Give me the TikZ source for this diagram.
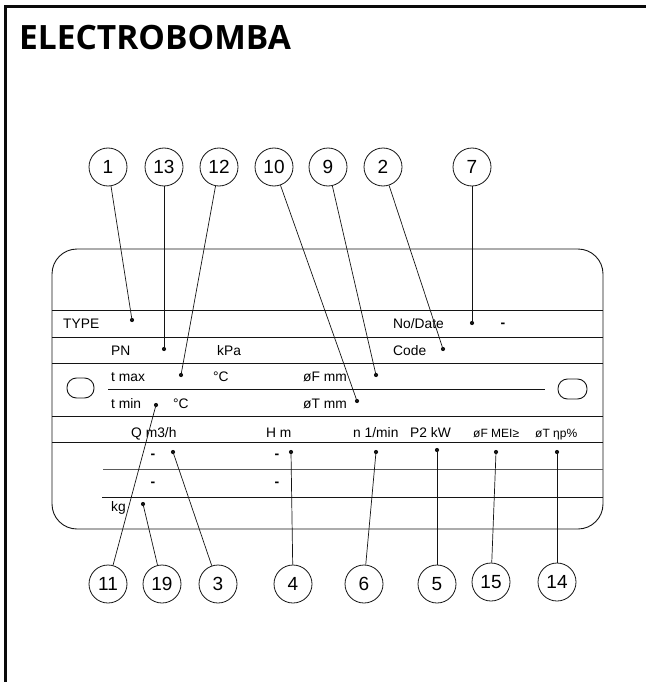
\documentclass[tikz,border=0pt]{standalone}
\usepackage{fontspec}
\setmainfont{Liberation Sans}
\newfontfamily\titlefont{Open Sans}
\usepackage{tikz}
\usetikzlibrary{positioning}
\definecolor{plateink}{RGB}{20,20,20}
\definecolor{frameink}{RGB}{10,10,10}
\tikzset{
  callout/.style={circle, draw=plateink, line width=0.8pt, minimum size=38pt,
    inner sep=0pt, font=\fontsize{19}{22}\selectfont},
  lbl/.style={anchor=base west, inner sep=0pt, font=\fontsize{13.8}{16}\selectfont},
  smalllbl/.style={anchor=base west, inner sep=0pt, font=\fontsize{12}{14}\selectfont},
  blank/.style={anchor=base, inner sep=0pt, font=\bfseries\fontsize{14}{16}\selectfont},
  dot/.style={circle, fill=plateink, minimum size=4.2pt, inner sep=0pt},
  leader/.style={line width=0.7pt, color=plateink},
  rule/.style={line width=0.9pt, color=plateink}
}

\begin{document}
\begin{tikzpicture}[x=1pt, y=-1pt]
    \useasboundingbox (0,0) rectangle (646,682);

    % frame and heading
    \draw[line width=2.6pt, color=frameink] (5.3,682) -- (5.3,6.3) -- (646,6.3);
    \node[anchor=base west, inner sep=0pt, font=\titlefont\bfseries\fontsize{33.5}{38}\selectfont]
      (title) at (19,50) {ELECTROBOMBA};

    % plate outline and rows
    \draw[rule, rounded corners=25pt] (52,249) rectangle (603,529);
    \draw[rule] (52,310) -- (603,310);
    \draw[rule] (52,337) -- (603,337);
    \draw[rule] (52,363) -- (603,363);
    \draw[rule] (108,389) -- (545,389);
    \draw[rule] (52,416) -- (603,416);
    \draw[rule] (52,442) -- (603,442);
    \draw[rule, color=plateink!70] (103,469) -- (603,469);
    \draw[rule] (102,497) -- (603,497);

    % fixing holes
    \draw[rule, rounded corners=9.5pt] (67,378) rectangle (94,398);
    \draw[rule, rounded corners=9.5pt] (558,379) rectangle (587,399);

    % plate texts
    \node[lbl] (type) at (63,328) {TYPE};
    \node[lbl] (nodate) at (393,328) {No/Date};
    \node[blank] (nodash) at (503,327) {-};
    \node[lbl] (pn) at (111,355) {PN};
    \node[lbl] (kpa) at (217,355) {kPa};
    \node[lbl] (code) at (393,355) {Code};
    \node[lbl] (tmax) at (111,381) {t max};
    \node[lbl] (cmax) at (213,381) {°C};
    \node[lbl] (fmm) at (303,381) {øF mm};
    \node[lbl] (tmin) at (111,408) {t min};
    \node[lbl] (cmin) at (173,408) {°C};
    \node[lbl] (tmm) at (303,408) {øT mm};
    \node[lbl] (flow) at (131,437) {Q m3/h};
    \node[lbl] (head) at (266,437) {H m};
    \node[lbl] (speed) at (353,437) {n 1/min};
    \node[lbl] (power) at (410,437) {P2 kW};
    \node[smalllbl] (mei) at (473,437) {øF MEI≥};
    \node[smalllbl] (eff) at (535,437) {øT ηp\%};
    \node[blank] (qa) at (153,458) {-};
    \node[blank] (ha) at (277,458) {-};
    \node[blank] (qb) at (153,486) {-};
    \node[blank] (hb) at (277,486) {-};
    \node[lbl] (kg) at (111,511) {kg};

    % field dots
    \node[dot] (d1) at (132,320) {};
    \node[dot] (d13) at (164,349) {};
    \node[dot] (d12) at (181,375) {};
    \node[dot] (d11) at (156,405) {};
    \node[dot] (d10) at (357,401) {};
    \node[dot] (d9) at (376,375) {};
    \node[dot] (d2) at (443,349) {};
    \node[dot] (d7) at (472,323) {};
    \node[dot] (d3) at (173,452) {};
    \node[dot] (d4) at (291,452) {};
    \node[dot] (d19) at (143,504) {};
    \node[dot] (d6) at (376,452) {};
    \node[dot] (d5) at (437,450) {};
    \node[dot] (d15) at (496,452) {};
    \node[dot] (d14) at (557,452) {};

    % numbered callouts
    \node[callout] (c1) at (108,167) {1};
    \node[callout] (c13) at (164,167) {13};
    \node[callout] (c12) at (219,167) {12};
    \node[callout] (c10) at (274,167) {10};
    \node[callout] (c9) at (328,167) {9};
    \node[callout] (c2) at (383,167) {2};
    \node[callout] (c7) at (472,167) {7};
    \node[callout] (c11) at (108,584) {11};
    \node[callout] (c19) at (162,584) {19};
    \node[callout] (c3) at (218,584) {3};
    \node[callout] (c4) at (293,584) {4};
    \node[callout] (c6) at (364,584) {6};
    \node[callout] (c5) at (437,584) {5};
    \node[callout] (c15) at (491,582) {15};
    \node[callout] (c14) at (557,582) {14};

    % leaders
    \foreach \n in {1,13,12,10,9,2,7,11,19,3,4,6,5,15,14}
      \draw[leader] (c\n) -- (d\n.center);
\end{tikzpicture}
\end{document}
